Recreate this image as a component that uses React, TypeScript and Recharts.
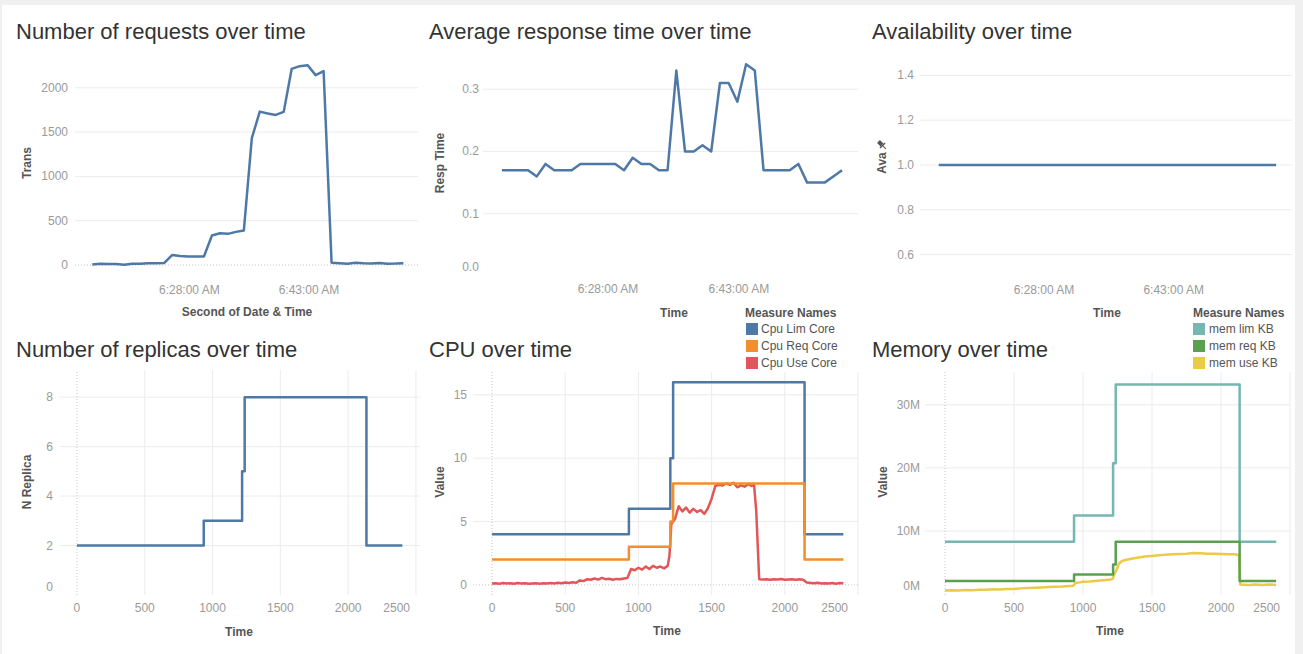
import React from 'react';
import { LineChart, Line, XAxis, YAxis, CartesianGrid, ReferenceLine } from 'recharts';

// one sample per minute, clock time of each sample
const sampleTimes = [
  '6:15:50', '6:16:50', '6:17:50', '6:18:50', '6:19:50', '6:20:50', '6:21:50', '6:22:50',
  '6:23:50', '6:24:50', '6:25:50', '6:26:50', '6:27:50', '6:28:50', '6:29:50', '6:30:50',
  '6:31:50', '6:32:50', '6:33:50', '6:34:50', '6:35:50', '6:36:50', '6:37:50', '6:38:50',
  '6:39:50', '6:40:50', '6:41:50', '6:42:50', '6:43:50', '6:44:50', '6:45:50', '6:46:50',
  '6:47:50', '6:48:50', '6:49:50', '6:50:50', '6:51:50', '6:52:50', '6:53:50', '6:54:50',
];
const requests = [
  5, 15, 13, 11, 4, 15, 14, 20, 21, 22, 112, 102, 97, 97, 97, 333, 359, 352, 374, 389,
  1432, 1731, 1710, 1694, 1728, 2214, 2244, 2255, 2143, 2188, 26, 20, 15, 26, 20, 18, 24, 15, 16, 19,
];
const respTime = [
  0.17, 0.17, 0.17, 0.17, 0.16, 0.18, 0.17, 0.17, 0.17, 0.18, 0.18, 0.18, 0.18, 0.18, 0.17, 0.19,
  0.18, 0.18, 0.17, 0.17, 0.33, 0.2, 0.2, 0.21, 0.2, 0.31, 0.31, 0.28, 0.34, 0.33, 0.17, 0.17,
  0.17, 0.17, 0.18, 0.15, 0.15, 0.15, 0.16, 0.17,
];
const availability = [
  1, 1, 1, 1, 1, 1, 1, 1, 1, 1, 1, 1, 1, 1, 1, 1, 1, 1, 1, 1,
  1, 1, 1, 1, 1, 1, 1, 1, 1, 1, 1, 1, 1, 1, 1, 1, 1, 1, 1, 1,
];
const clockTicks = ['6:28:00', '6:43:00'];

// scaling steps (seconds since start)
const stepTimes = [0, 935, 1218, 1237, 2135, 2400];
const replicas = [2, 3, 5, 8, 2, 2];
const cpuLim = [4, 6, 10, 16, 4, 4];
const cpuReq = [2, 3, 5, 8, 2, 2];
const memLim = [8300000, 12450000, 20750000, 33200000, 8300000, 8300000];
const memReq = [2070000, 3100000, 4700000, 8280000, 2070000, 2070000];

const cpuUse: [number, number][] = [
  [0, 0.1], [25, 0.12], [50, 0.08], [75, 0.15], [100, 0.1], [125, 0.12], [150, 0.09], [175, 0.14],
  [200, 0.1], [225, 0.12], [250, 0.08], [275, 0.11], [300, 0.13], [325, 0.09], [350, 0.12], [375, 0.1],
  [400, 0.14], [425, 0.11], [450, 0.16], [475, 0.12], [500, 0.18], [525, 0.15], [550, 0.2], [575, 0.17],
  [600, 0.35], [625, 0.3], [650, 0.45], [675, 0.4], [700, 0.5], [725, 0.42], [750, 0.55], [775, 0.45],
  [800, 0.48], [825, 0.4], [850, 0.47], [875, 0.45], [900, 0.5], [925, 0.55], [950, 1.25], [975, 1.15],
  [1000, 1.35], [1025, 1.2], [1050, 1.45], [1075, 1.25], [1100, 1.5], [1125, 1.35], [1150, 1.45], [1175, 1.3],
  [1200, 1.5], [1212, 2.3], [1225, 4.8], [1250, 5.2], [1275, 6.2], [1300, 5.8], [1325, 6.1], [1350, 5.7],
  [1375, 6.0], [1400, 5.75], [1425, 5.9], [1450, 5.6], [1475, 6.05], [1500, 6.8], [1525, 7.8], [1550, 7.9],
  [1575, 7.85], [1600, 8.0], [1625, 7.9], [1650, 8.05], [1675, 7.7], [1700, 7.85], [1725, 7.75], [1750, 7.95],
  [1775, 7.8], [1790, 7.9], [1805, 5.8], [1825, 0.45], [1850, 0.42], [1875, 0.45], [1900, 0.4], [1925, 0.44],
  [1950, 0.42], [1975, 0.46], [2000, 0.4], [2025, 0.43], [2050, 0.45], [2075, 0.41], [2100, 0.44], [2125, 0.4],
  [2150, 0.18], [2175, 0.15], [2200, 0.12], [2225, 0.16], [2250, 0.1], [2275, 0.13], [2300, 0.11], [2325, 0.15],
  [2350, 0.09], [2375, 0.14], [2400, 0.12],
];

const memUse: [number, number][] = [
  [0, 550000], [50, 600000], [100, 580000], [150, 650000], [200, 620000], [250, 700000], [300, 680000],
  [350, 750000], [400, 720000], [450, 800000], [500, 820000], [550, 900000], [600, 950000], [650, 1000000],
  [700, 1050000], [750, 1100000], [800, 1150000], [850, 1200000], [900, 1280000], [930, 1320000],
  [945, 1750000], [975, 1850000], [1000, 1950000], [1050, 2000000], [1100, 2100000], [1150, 2200000],
  [1200, 2300000], [1215, 2400000], [1230, 3300000], [1245, 3900000], [1260, 4800000], [1280, 5200000],
  [1300, 5350000], [1350, 5600000], [1400, 5800000], [1450, 5950000], [1500, 6050000], [1550, 6150000],
  [1600, 6250000], [1650, 6300000], [1700, 6350000], [1750, 6400000], [1800, 6500000], [1850, 6450000],
  [1900, 6400000], [1950, 6400000], [2000, 6350000], [2050, 6300000], [2100, 6300000], [2130, 6200000],
  [2140, 1500000], [2200, 1450000], [2250, 1500000], [2300, 1450000], [2350, 1500000], [2400, 1450000],
];

const secondTicks = [0, 500, 1000, 1500, 2000, 2500];

const FONT = '"Liberation Sans", Arial, sans-serif';
const GRID = '#ececec';
const DOT = '#c4c4c4';
const BLUE = '#4e79a7';
const ORANGE = '#f28e2b';
const RED = '#e15759';
const TEAL = '#76b7b2';
const GREEN = '#59a14f';
const YELLOW = '#edc948';

const toSeconds = (s: string) => {
  const [h, m, sec] = s.split(':').map(Number);
  return h * 3600 + m * 60 + sec;
};
const pad = (n: number) => String(n).padStart(2, '0');
const fmtClock = (s: number) =>
  `${Math.floor(s / 3600)}:${pad(Math.floor((s % 3600) / 60))}:${pad(s % 60)} AM`;

const timeDomain = [toSeconds('6:13:40'), toSeconds('6:56:40')];
const timeTicks = clockTicks.map(toSeconds);
const requestsData = sampleTimes.map((t, i) => ({ t: toSeconds(t), v: requests[i] }));
const respData = sampleTimes.map((t, i) => ({ t: toSeconds(t), v: respTime[i] }));
const availData = sampleTimes.map((t, i) => ({ t: toSeconds(t), v: availability[i] }));

const steps = (vals: number[]) => stepTimes.map((t, i) => ({ t, v: vals[i] }));
const pairs = (p: [number, number][]) => p.map(([t, v]) => ({ t, v }));

function YTick({ x, y, payload, fmt, liftZero }: any) {
  const lift = liftZero && payload.value === 0 ? liftZero : 0;
  return (
    <text x={x} y={y - lift} dy={4} textAnchor="end" fontFamily={FONT} fontSize={12} fill="#9a9a9a">
      {fmt ? fmt(payload.value) : payload.value}
    </text>
  );
}

function XTick({ x, y, payload, fmt, endValue }: any) {
  const atEnd = endValue !== undefined && payload.value === endValue;
  return (
    <text x={atEnd ? x + 1 : x} y={y} dy={4} textAnchor={atEnd ? 'end' : 'middle'} fontFamily={FONT} fontSize={12} fill="#9a9a9a">
      {fmt ? fmt(payload.value) : payload.value}
    </text>
  );
}

const lineProps = { dot: false, activeDot: false, isAnimationActive: false, strokeWidth: 2.5, strokeLinejoin: 'round' as const };

function Box({ left, top, children }: any) {
  return <div style={{ position: 'absolute', left, top }}>{children}</div>;
}

function TimeAxis() {
  return null;
}

export default function App() {
  const axisCommon = { axisLine: false, tickLine: false, tickSize: 0, allowDataOverflow: true };
  return (
    <div style={{ position: 'absolute', left: 0, top: 0, width: 1303, height: 654, background: '#f0f0f0', overflow: 'hidden' }}>
      <div style={{ position: 'absolute', left: 2, top: 5, width: 1293, height: 649, background: '#fff' }} />

      {/* Number of requests */}
      <Box left={15} top={55}>
        <LineChart width={418} height={262} data={requestsData} margin={{ top: 0, right: 15, bottom: 0, left: 0 }}>
          <CartesianGrid vertical={false} stroke={GRID} horizontalValues={[500, 1000, 1500, 2000]} />
          <ReferenceLine y={0} stroke={DOT} strokeDasharray="1 2" />
          <XAxis type="number" dataKey="t" domain={timeDomain} ticks={timeTicks} height={40} tickMargin={13} {...axisCommon} tick={<XTick fmt={fmtClock} />} />
          <YAxis type="number" domain={[-135, 2370]} ticks={[0, 500, 1000, 1500, 2000]} width={60} tickMargin={7} {...axisCommon} tick={<YTick />} />
          <Line dataKey="v" stroke={BLUE} {...lineProps} />
        </LineChart>
      </Box>

      {/* Average response time */}
      <Box left={423} top={55}>
        <LineChart width={450} height={261} data={respData} margin={{ top: 0, right: 15, bottom: 0, left: 0 }}>
          <CartesianGrid vertical={false} stroke={GRID} horizontalValues={[0.1, 0.2, 0.3]} />
          <XAxis type="number" dataKey="t" domain={timeDomain} ticks={timeTicks} height={40} tickMargin={13} {...axisCommon} tick={<XTick fmt={fmtClock} />} />
          <YAxis type="number" domain={[0, 0.355]} ticks={[0, 0.1, 0.2, 0.3]} width={60} tickMargin={4} {...axisCommon} tick={<YTick fmt={(v: number) => v.toFixed(1)} liftZero={9} />} />
          <Line dataKey="v" stroke={BLUE} {...lineProps} />
        </LineChart>
      </Box>

      {/* Availability */}
      <Box left={860} top={53}>
        <LineChart width={442} height={264} data={availData} margin={{ top: 0, right: 10, bottom: 0, left: 0 }}>
          <CartesianGrid vertical={false} stroke={GRID} horizontalValues={[0.6, 0.8, 1.0, 1.2, 1.4]} />
          <XAxis type="number" dataKey="t" domain={timeDomain} ticks={timeTicks} height={40} tickMargin={13} {...axisCommon} tick={<XTick fmt={fmtClock} />} />
          <YAxis type="number" domain={[0.5, 1.5]} ticks={[0.6, 0.8, 1.0, 1.2, 1.4]} width={60} tickMargin={6} {...axisCommon} tick={<YTick fmt={(v: number) => v.toFixed(1)} />} />
          <Line dataKey="v" stroke={BLUE} {...lineProps} />
        </LineChart>
      </Box>

      {/* Replicas */}
      <Box left={0} top={370}>
        <LineChart width={425} height={265} margin={{ top: 0, right: 5, bottom: 0, left: 0 }}>
          <CartesianGrid stroke={GRID} horizontalValues={[2, 4, 6, 8]} verticalValues={[500, 1000, 1500, 2000, 2500]} />
          <ReferenceLine x={0} stroke={DOT} strokeDasharray="1 2" />
          <XAxis type="number" dataKey="t" domain={[-125, 2530]} ticks={secondTicks} height={40} tickMargin={13} {...axisCommon} tick={<XTick endValue={2500} />} />
          <YAxis type="number" domain={[0, 9.1]} ticks={[0, 2, 4, 6, 8]} width={60} tickMargin={7} {...axisCommon} tick={<YTick liftZero={8} />} />
          <Line data={steps(replicas)} dataKey="v" type="stepAfter" stroke={BLUE} {...lineProps} />
        </LineChart>
      </Box>

      {/* CPU */}
      <Box left={413} top={372}>
        <LineChart width={450} height={263} margin={{ top: 0, right: 5, bottom: 0, left: 0 }}>
          <CartesianGrid stroke={GRID} horizontalValues={[5, 10, 15]} verticalValues={[500, 1000, 1500, 2000, 2500]} />
          <ReferenceLine x={0} stroke={DOT} strokeDasharray="1 2" />
          <ReferenceLine y={0} stroke={DOT} strokeDasharray="1 2" />
          <XAxis type="number" dataKey="t" domain={[-130, 2500]} ticks={secondTicks} height={40} tickMargin={13} {...axisCommon} tick={<XTick endValue={2500} />} />
          <YAxis type="number" domain={[-0.8, 16.8]} ticks={[0, 5, 10, 15]} width={60} tickMargin={6} {...axisCommon} tick={<YTick />} />
          <Line data={steps(cpuLim)} dataKey="v" type="stepAfter" stroke={BLUE} {...lineProps} />
          <Line data={pairs(cpuUse)} dataKey="v" stroke={RED} {...lineProps} />
          <Line data={steps(cpuReq)} dataKey="v" type="stepAfter" stroke={ORANGE} {...lineProps} />
        </LineChart>
      </Box>

      {/* Memory */}
      <Box left={865} top={372}>
        <LineChart width={430} height={263} margin={{ top: 0, right: 5, bottom: 0, left: 0 }}>
          <CartesianGrid stroke={GRID} horizontalValues={[10000000, 20000000, 30000000]} verticalValues={[500, 1000, 1500, 2000, 2500]} />
          <ReferenceLine x={0} stroke={DOT} strokeDasharray="1 2" />
          <XAxis type="number" dataKey="t" domain={[-145, 2500]} ticks={secondTicks} height={40} tickMargin={13} {...axisCommon} tick={<XTick endValue={2500} />} />
          <YAxis type="number" domain={[-150000, 35200000]} ticks={[0, 10000000, 20000000, 30000000]} width={60} tickMargin={5} {...axisCommon} tick={<YTick fmt={(v: number) => `${v / 1000000}M`} liftZero={8} />} />
          <Line data={steps(memLim)} dataKey="v" type="stepAfter" stroke={TEAL} {...lineProps} />
          <Line data={pairs(memUse)} dataKey="v" stroke={YELLOW} {...lineProps} />
          <Line data={steps(memReq)} dataKey="v" type="stepAfter" stroke={GREEN} {...lineProps} />
        </LineChart>
      </Box>

      {/* titles, axis titles, legends */}
      <svg width={1303} height={654} style={{ position: 'absolute', left: 0, top: 0, pointerEvents: 'none' }} fontFamily={FONT}>
        <g fontSize={22} fill="#333">
          <text x={16} y={39}>Number of requests over time</text>
          <text x={429} y={39}>Average response time over time</text>
          <text x={872} y={39}>Availability over time</text>
          <text x={16} y={357}>Number of replicas over time</text>
          <text x={429} y={357}>CPU over time</text>
          <text x={872} y={357}>Memory over time</text>
        </g>
        <g fontSize={12} fontWeight="bold" fill="#555" textAnchor="middle">
          <text x={247} y={316}>Second of Date &amp; Time</text>
          <text x={674} y={317}>Time</text>
          <text x={1107} y={317}>Time</text>
          <text x={239} y={636}>Time</text>
          <text x={667} y={635}>Time</text>
          <text x={1110} y={635}>Time</text>
          <text transform="translate(27,163) rotate(-90)" dy={4}>Trans</text>
          <text transform="translate(440,163) rotate(-90)" dy={4}>Resp Time</text>
          <text transform="translate(882,163) rotate(-90)" dy={4}>Ava</text>
          <text transform="translate(27,482) rotate(-90)" dy={4}>N Replica</text>
          <text transform="translate(440,482) rotate(-90)" dy={4}>Value</text>
          <text transform="translate(883,482) rotate(-90)" dy={4}>Value</text>
        </g>
        <g transform="translate(882,145) rotate(-45)" fill="#555">
          <rect x={-2} y={-5} width={4} height={5} />
          <rect x={-3.5} y={0} width={7} height={1.5} />
          <rect x={-0.5} y={1.5} width={1} height={4} />
        </g>
        <g fontSize={12}>
          <text x={745} y={317} fontWeight="bold" fill="#555">Measure Names</text>
          <rect x={746} y={323} width={12} height={12} fill={BLUE} />
          <rect x={746} y={340} width={12} height={12} fill={ORANGE} />
          <rect x={746} y={357} width={12} height={12} fill={RED} />
          <text x={761} y={333} fill="#555">Cpu Lim Core</text>
          <text x={761} y={350} fill="#555">Cpu Req Core</text>
          <text x={761} y={367} fill="#555">Cpu Use Core</text>

          <text x={1193} y={317} fontWeight="bold" fill="#555">Measure Names</text>
          <rect x={1193} y={323} width={12} height={12} fill={TEAL} />
          <rect x={1193} y={340} width={12} height={12} fill={GREEN} />
          <rect x={1193} y={357} width={12} height={12} fill={YELLOW} />
          <text x={1209} y={333} fill="#555">mem lim KB</text>
          <text x={1209} y={350} fill="#555">mem req KB</text>
          <text x={1209} y={367} fill="#555">mem use KB</text>
        </g>
      </svg>
    </div>
  );
}
